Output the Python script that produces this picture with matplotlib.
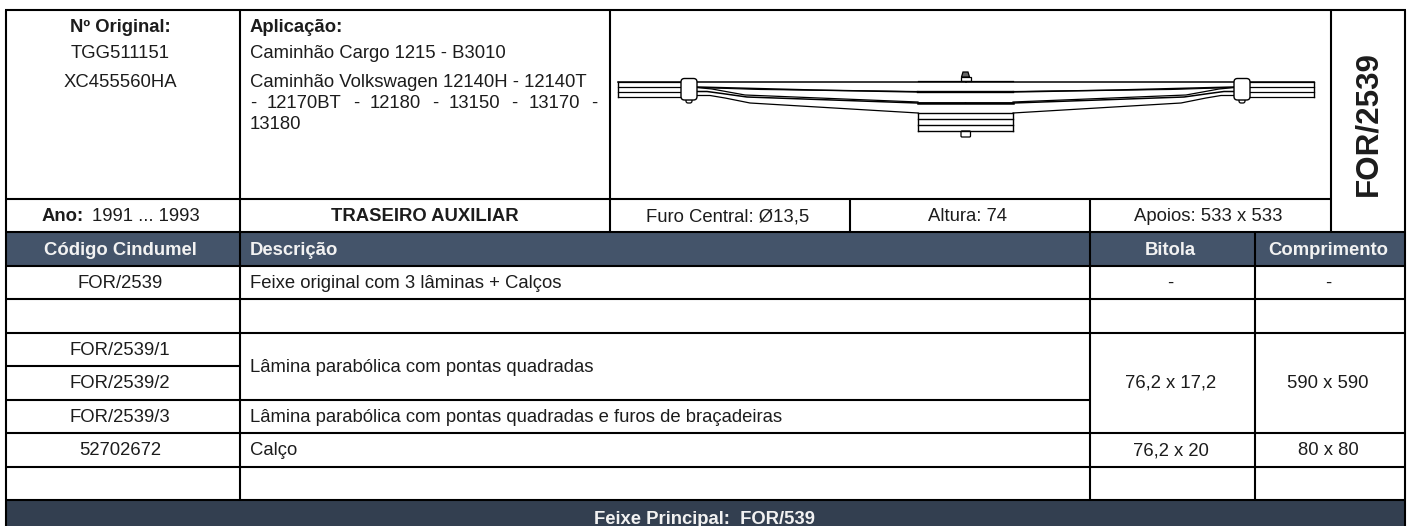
#!/usr/bin/env python3
import matplotlib
matplotlib.use("Agg")
import matplotlib.pyplot as plt
from matplotlib.patches import FancyBboxPatch, Polygon, Rectangle

plt.rcParams['font.family'] = ['Liberation Sans', 'DejaVu Sans']

W, H = 1408, 526
HEAD = '#44546a'
FOOT = '#333f50'
INK = '#1c1c1c'
BASE = 5  # baseline sits this far below a row's middle

original_nos = ['TGG511151', 'XC455560HA']
original_rows = [53, 82]
aplicacao = ['Caminhão Cargo 1215 - B3010',
             'Caminhão Volkswagen 12140H - 12140T',
             '13180']
aplicacao_rows = [53, 82, 124]
justified = '- 12170BT - 12180 - 13150 - 13170 -'
info_cells = ['Furo Central: Ø13,5', 'Altura: 74', 'Apoios: 533 x 533']
info_x = [728, 968, 1208.5]
headers = ['Código Cindumel', 'Descrição', 'Bitola', 'Comprimento']
codes = ['FOR/2539', 'FOR/2539/1', 'FOR/2539/2', 'FOR/2539/3', '52702672']
code_rows = [283, 350, 383, 417, 450]
descs = ['Feixe original com 3 lâminas + Calços',
         'Lâmina parabólica com pontas quadradas',
         'Lâmina parabólica com pontas quadradas e furos de braçadeiras',
         'Calço']
desc_rows = [283, 367, 417, 450]
bitola = ['-', '76,2 x 17,2', '76,2 x 20']
compr = ['-', '590 x 590', '80 x 80']
size_rows = [283, 383, 450]

# grid: (x, y0, y1) and (y, x0, x1), in reference pixels
v_lines = [(6, 10, 526), (240, 10, 500), (610, 10, 232), (850, 199, 232),
           (1090, 199, 500), (1255, 232, 500), (1331, 10, 232), (1405, 10, 526)]
h_lines = [(10, 5, 1406), (199, 6, 1331), (232, 5, 1406), (266, 5, 1406),
           (299, 5, 1406), (333, 5, 1406), (366, 6, 240), (400, 6, 1090),
           (433, 5, 1406), (467, 5, 1406), (500, 5, 1406)]

# half of the spring drawing; the other half is mirrored around spring_cx
spring_cx = 965.5
leaf_top = ([617.5, 965.5], [82, 82])
leaf_1 = ([697, 813, 918, 965.5], [87, 90, 92, 92])
leaf_1b = ([697, 760, 918], [87.5, 89.5, 91.5])
leaf_2a = ([697, 712, 745, 918], [87.5, 89, 95, 102])
leaf_2 = ([697, 707, 722, 747, 918, 965.5], [91.5, 91.5, 93.5, 97, 103, 103])
leaf_3 = ([697, 710, 725, 750, 918], [95.5, 95.5, 98, 103, 113])
end_lines = [82, 87, 92, 97]
center_lines = [(81, 0.9), (92, 1.7), (102.8, 1.8), (113, 1.0), (119, 1.0), (125, 1.0), (131, 1.0)]


def spring(ax):
    for sign in (1, -1):
        mx = lambda xs: [spring_cx + sign * (x - spring_cx) for x in xs]
        ax.plot(mx(leaf_top[0]), leaf_top[1], color='k', lw=1.1)
        ax.plot(mx(leaf_1[0]), leaf_1[1], color='k', lw=1.1)
        ax.plot(mx(leaf_1b[0]), leaf_1b[1], color='k', lw=0.8)
        ax.plot(mx(leaf_2a[0]), leaf_2a[1], color='k', lw=0.9)
        ax.plot(mx(leaf_2[0]), leaf_2[1], color='k', lw=1.1)
        ax.plot(mx(leaf_3[0]), leaf_3[1], color='k', lw=0.9)
        for y in end_lines:
            ax.plot(mx([617.5, 682]), [y, y], color='k', lw=0.9)
        ax.plot(mx([617.5, 617.5]), [82, 97], color='k', lw=1.0)
        ax.plot(mx([918, 918]), [113, 131], color='k', lw=1.0)
        # clamp with its small rivet
        cx = mx([689])[0]
        ax.add_patch(FancyBboxPatch((cx - 2.5, 98), 5, 4.5, boxstyle='round,pad=0.5,rounding_size=2',
                                    fc='white', ec='k', lw=0.9, zorder=3))
        ax.add_patch(FancyBboxPatch((cx - 6, 80.5), 12, 17.5, boxstyle='round,pad=2,rounding_size=3.5',
                                    fc='white', ec='k', lw=1.0, zorder=4))
    for y, lw in center_lines:
        ax.plot([918, 1013], [y, y], color='k', lw=lw)
    ax.add_patch(FancyBboxPatch((961, 131), 9.5, 6, boxstyle='round,pad=0,rounding_size=1',
                                fc='white', ec='k', lw=0.9))
    ax.add_patch(Rectangle((960.5, 77), 10.5, 4, fc='white', ec='k', lw=0.9))
    ax.add_patch(Polygon([(961.5, 77), (963, 72), (968, 72), (969.5, 77)], fc='#666666', ec='k', lw=0.9))


def justify(ax, fig, s, x0, x1, y, **kw):
    """Word-spaced line, like the source's justified paragraph."""
    words = s.split(' ')
    r = fig.canvas.get_renderer()
    texts = [ax.text(0, y, w, **kw) for w in words]
    widths = [t.get_window_extent(r).width for t in texts]
    gap = (x1 - x0 - sum(widths)) / (len(words) - 1)
    x = x0
    for t, w in zip(texts, widths):
        t.set_x(x)
        x += w + gap


def main():
    fig = plt.figure(figsize=(W / 100, H / 100), dpi=100)
    ax = fig.add_axes([0, 0, 1, 1])
    ax.set_xlim(0, W); ax.set_ylim(H, 0); ax.axis('off')

    ax.add_patch(Rectangle((6, 232), 1399, 34, fc=HEAD, ec='none'))
    ax.add_patch(Rectangle((6, 500), 1399, 26, fc=FOOT, ec='none'))
    for x, y0, y1 in v_lines:
        ax.plot([x, x], [y0, y1], color='k', lw=1.5, solid_capstyle='butt', zorder=5)
    for y, x0, x1 in h_lines:
        ax.plot([x0, x1], [y, y], color='k', lw=1.5, solid_capstyle='butt', zorder=5)

    fs = 13.3
    kw = dict(va='baseline', fontsize=fs, color=INK)
    ax.text(120, 27 + BASE, 'Nº Original:', ha='center', fontweight='bold', **kw)
    for y, s in zip(original_rows, original_nos):
        ax.text(120, y + BASE, s, ha='center', **kw)
    ax.text(250, 27 + BASE, 'Aplicação:', fontweight='bold', **kw)
    for y, s in zip(aplicacao_rows, aplicacao):
        ax.text(250, y + BASE, s, **kw)
    justify(ax, fig, justified, 250, 597, 103 + BASE, **kw)
    ax.text(1368, 124, 'FOR/2539', rotation=90, ha='center', va='center',
            fontsize=22.6, fontweight='bold', color=INK)
    spring(ax)

    ax.text(42, 216 + BASE, 'Ano:', fontweight='bold', **kw)
    ax.text(92, 216 + BASE, '1991 ... 1993', **kw)
    ax.text(425, 216 + BASE, 'TRASEIRO AUXILIAR', ha='center', fontweight='bold', **kw)
    for x, s in zip(info_x, info_cells):
        ax.text(x, 216 + BASE, s, ha='center', **kw)

    hk = dict(va='baseline', fontsize=fs, color='#f2f2f2', fontweight='bold')
    ax.text(120, 250 + BASE, headers[0], ha='center', **hk)
    ax.text(250, 250 + BASE, headers[1], **hk)
    ax.text(1170.5, 250 + BASE, headers[2], ha='center', **hk)
    ax.text(1328, 250 + BASE, headers[3], ha='center', **hk)

    for y, s in zip(code_rows, codes):
        ax.text(120, y + BASE, s, ha='center', **kw)
    for y, s in zip(desc_rows, descs):
        ax.text(250, y + BASE, s, **kw)
    for y, s in zip(size_rows, bitola):
        ax.text(1170.5, y + BASE, s, ha='center', **kw)
    for y, s in zip(size_rows, compr):
        ax.text(1328, y + BASE, s, ha='center', **kw)

    ax.text(704.5, 518.5 + BASE, 'Feixe Principal:  FOR/539', ha='center', va='baseline',
            fontsize=fs, fontweight='bold', color='#f2f2f2')

    fig.savefig('out.png', dpi=100)


if __name__ == '__main__':
    main()
